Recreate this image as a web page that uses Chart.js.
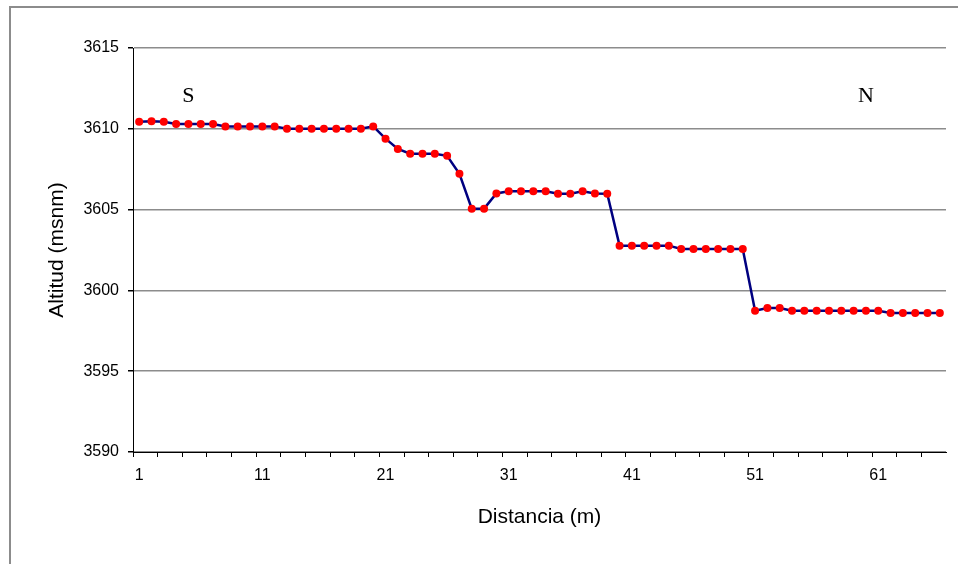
<!DOCTYPE html>
<html>
<head>
<meta charset="utf-8">
<title>Perfil de altitud</title>
<script src="https://cdn.jsdelivr.net/npm/chart.js@4.4.1/dist/chart.umd.min.js"></script>
<style>
  html, body { margin: 0; padding: 0; background: #fff; }
  #wrap { position: relative; width: 958px; height: 564px; overflow: hidden; }
  #frame {
    position: absolute; left: 9px; top: 6px; width: 1000px; height: 1000px;
    border-left: 2px solid #8c8c8c; border-top: 2px solid #8c8c8c;
  }
  #perfil { position: absolute; left: 0; top: 0; }
</style>
</head>
<body>
<div id="wrap">
  <div id="frame"></div>
  <canvas id="perfil" width="958" height="564"></canvas>
</div>
<script>
// distance along the profile (m)
const distancia = [
  '1', '2', '3', '4', '5', '6', '7', '8', '9', '10',
  '11', '12', '13', '14', '15', '16', '17', '18', '19', '20',
  '21', '22', '23', '24', '25', '26', '27', '28', '29', '30',
  '31', '32', '33', '34', '35', '36', '37', '38', '39', '40',
  '41', '42', '43', '44', '45', '46', '47', '48', '49', '50',
  '51', '52', '53', '54', '55', '56', '57', '58', '59', '60',
  '61', '62', '63', '64', '65', '66'
];

// altitude (msnm)
const altitud = [
  3610.44, 3610.46, 3610.44, 3610.30, 3610.30, 3610.30, 3610.30, 3610.15, 3610.15, 3610.15,
  3610.15, 3610.15, 3610.00, 3610.00, 3610.00, 3610.00, 3610.00, 3610.00, 3610.00, 3610.15,
  3609.39, 3608.75, 3608.46, 3608.46, 3608.46, 3608.33, 3607.22, 3605.06, 3605.06, 3606.00,
  3606.13, 3606.13, 3606.13, 3606.13, 3605.98, 3605.98, 3606.13, 3606.00, 3605.98, 3602.77,
  3602.77, 3602.77, 3602.77, 3602.77, 3602.56, 3602.56, 3602.56, 3602.56, 3602.56, 3602.56,
  3598.74, 3598.91, 3598.91, 3598.74, 3598.74, 3598.74, 3598.74, 3598.74, 3598.74, 3598.74,
  3598.74, 3598.60, 3598.60, 3598.60, 3598.60, 3598.60
];

// S / N markers written on the chart
const notas = ['S', 'N'];
const notasX = ['5', '60'];
const notasY = [3612, 3612];

const fontSans = '"Liberation Sans", Arial, sans-serif';

// draws the S and N letters through the chart scales
const notasPlugin = {
  id: 'notas',
  afterDatasetsDraw(chart) {
    const ctx = chart.ctx;
    const xs = chart.scales.x;
    const ys = chart.scales.y;
    ctx.save();
    ctx.font = '22px "Liberation Serif", "Times New Roman", serif';
    ctx.fillStyle = '#000';
    ctx.textAlign = 'center';
    ctx.textBaseline = 'middle';
    notas.forEach((t, i) => {
      ctx.fillText(t, xs.getPixelForValue(distancia.indexOf(notasX[i])), ys.getPixelForValue(notasY[i]));
    });
    ctx.restore();
  }
};

const ctx = document.getElementById('perfil').getContext('2d');
new Chart(ctx, {
  type: 'line',
  data: {
    labels: distancia,
    datasets: [{
      label: 'Altitud',
      data: altitud,
      borderColor: '#000080',
      borderWidth: 2.5,
      tension: 0,
      pointRadius: 4,
      pointBorderWidth: 0,
      pointBackgroundColor: '#ff0000',
      pointBorderColor: '#ff0000'
    }]
  },
  options: {
    responsive: false,
    animation: false,
    layout: { padding: { top: 48, right: 12, left: 0, bottom: 0 } },
    plugins: {
      legend: { display: false },
      tooltip: { enabled: false }
    },
    scales: {
      x: {
        type: 'category',
        offset: true,
        afterFit(scale) { scale.height = 112; },
        border: { display: true, color: '#000', width: 1 },
        grid: {
          offset: true,
          drawOnChartArea: false,
          drawTicks: true,
          tickLength: 5,
          tickWidth: 1,
          tickColor: (c) => (c.index % 2 === 0 ? '#000' : 'rgba(0,0,0,0)')
        },
        ticks: {
          autoSkip: false,
          maxRotation: 0,
          padding: 9,
          color: '#000',
          font: { family: fontSans, size: 16 },
          callback: (v, i) => (i % 10 === 0 ? distancia[i] : '')
        },
        title: {
          display: true,
          text: 'Distancia (m)',
          color: '#000',
          font: { family: fontSans, size: 21 },
          padding: { top: 0, bottom: 34 }
        }
      },
      y: {
        min: 3590,
        max: 3615,
        afterFit(scale) { scale.width = 133; },
        border: { display: true, color: '#000', width: 1 },
        grid: {
          color: '#8c8c8c',
          lineWidth: 1.5,
          tickColor: '#000',
          tickLength: 5
        },
        ticks: {
          stepSize: 5,
          padding: 9,
          color: '#000',
          font: { family: fontSans, size: 16 },
          callback: (v) => String(v)
        },
        title: {
          display: true,
          text: 'Altitud (msnm)',
          color: '#000',
          font: { family: fontSans, size: 21 },
          padding: { top: 45, bottom: 0 }
        }
      }
    }
  },
  plugins: [notasPlugin]
});
</script>
</body>
</html>
